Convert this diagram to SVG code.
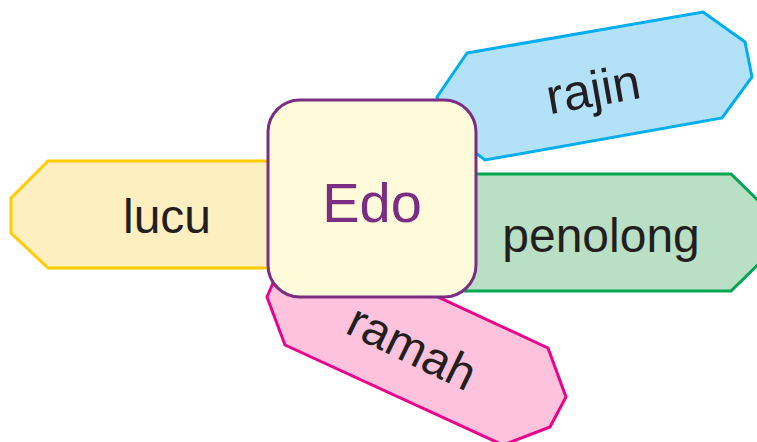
<svg xmlns="http://www.w3.org/2000/svg" width="757" height="442" viewBox="0 0 757 442">
<style>
.petal{stroke-width:3;stroke-linejoin:miter}
.lbl{font-family:"Liberation Sans","Open Sans",sans-serif;font-size:48px;fill:#231F20;text-anchor:middle}
</style>
<rect width="757" height="442" fill="#ffffff"/>
<g id="lucu">
<polygon class="petal" points="48,161 290,161 290,268 48,268 11,233 11,198" fill="#FEEFC0" stroke="#FFCC00"/>
<text class="lbl" x="167" y="233">lucu</text>
</g>
<g id="rajin">
<polygon class="petal" points="467,53 703,12 745,42 752,77 722,118 485,160 445,130 437,97" fill="#B3E2F8" stroke="#00AEEF"/>
<text class="lbl" font-size="50" transform="translate(596,106) rotate(-10)" style="font-size:50px">rajin</text>
</g>
<g id="penolong">
<polygon class="petal" points="455,174 731,174 768,210 768,255 731,291 465,291" fill="#B9E0C4" stroke="#00A651"/>
<text class="lbl" x="601" y="252">penolong</text>
</g>
<g id="ramah">
<polygon class="petal" points="330,247 273,283 267,297 285,345 503,445 550,427 566,397 548,348" fill="#FDC3DC" stroke="#EC008C"/>
<text class="lbl" transform="translate(405,362) rotate(26)">ramah</text>
</g>
<g id="edo">
<rect x="268" y="100" width="208" height="197" rx="32" ry="32" fill="#FFFBDA" stroke="#7B2C83" stroke-width="3"/>
<text x="372" y="222" style="font-family:'Liberation Sans','Open Sans',sans-serif;font-size:56px;fill:#7B2C83;text-anchor:middle">Edo</text>
</g>
</svg>
